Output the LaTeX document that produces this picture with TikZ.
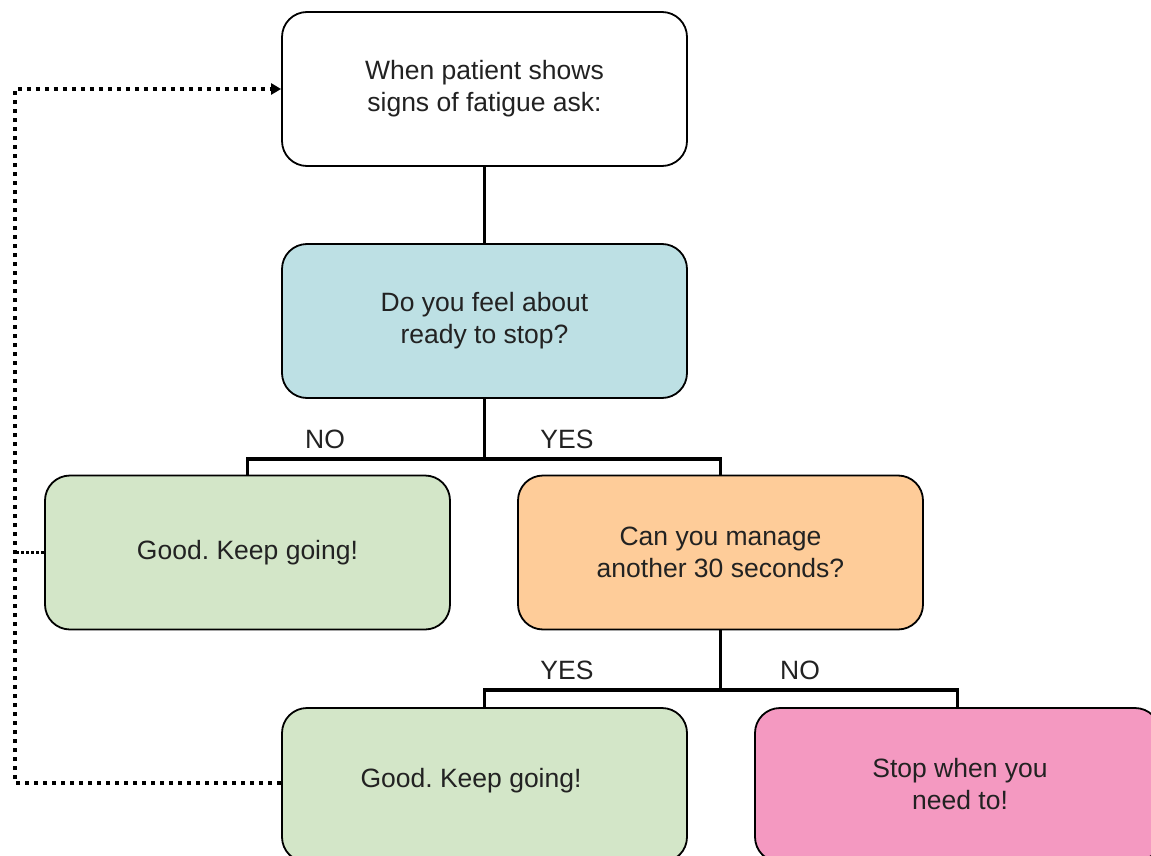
\documentclass[tikz,border=0pt]{standalone}
\usepackage{fontspec}
\setmainfont{Liberation Sans}
\frenchspacing
\usetikzlibrary{arrows.meta}
\definecolor{txt}{HTML}{222222}
\definecolor{cblue}{HTML}{BDE0E4}
\definecolor{cgreen}{HTML}{D3E6C8}
\definecolor{corange}{HTML}{FECC99}
\definecolor{cpink}{HTML}{F499C1}
\tikzset{
  box/.style={draw=black, line width=1.8pt, rounded corners=25pt, minimum width=405pt, minimum height=154pt, align=center, text=txt, font=\fontsize{26.5}{32}\selectfont, inner sep=0pt},
  conn/.style={draw=black, line width=3.6pt},
  dotline/.style={draw=black, line width=3.6pt, dash pattern=on 4.5pt off 4.5pt},
  lbl/.style={text=txt, font=\fontsize{26.5}{32}\selectfont, inner sep=0pt},
}
\begin{document}
\begin{tikzpicture}[x=1pt,y=-1pt]
\useasboundingbox (0,0) rectangle (1151,856);
\begin{scope}
\clip (0,0) rectangle (1151,856);
\node[box, fill=white] (top) at (484.5,89) {When patient shows\\signs of fatigue ask:};
\node[box, fill=cblue] (q1) at (484.5,321) {Do you feel about\\ready to stop?};
\node[box, fill=cgreen] (g1) at (247.5,552.5) {Good. Keep going!};
\node[box, fill=corange] (q2) at (720.5,552.5) {Can you manage\\another 30 seconds?};
\node[box, fill=cgreen] (g2) at (484.5,785) {};
\node[lbl] (g2t) at (471,781) {Good. Keep going!};
\node[box, fill=cpink] (stop) at (957.5,785) {};
\node[lbl, align=center] (stopt) at (960,784) {Stop when you\\need to!};

\coordinate (j1) at (484.5,459);
\coordinate (j2) at (720.5,690);
\draw[conn] (top.south) -- (q1.north);
\draw[conn] (q1.south) -- (j1);
\draw[conn] (g1.north) |- (j1) -| (q2.north);
\draw[conn] (q2.south) -- (j2);
\draw[conn] (g2.north) |- (j2) -| (stop.north);

\node[lbl] (no1) at (325,439) {NO};
\node[lbl] (yes1) at (567,439) {YES};
\node[lbl] (yes2) at (567,670) {YES};
\node[lbl] (no2) at (800,670) {NO};

\coordinate (lt) at (15,89);
\coordinate (lm) at (15,552.5);
\coordinate (lb) at (15,783);
\draw[dotline, -{Triangle[length=10pt,width=11pt]}] (g2.west |- lb) -- (lb) -- (lt) -- (top.west);
\draw[dotline, dash pattern=on 3pt off 2pt] (g1.west) -- (lm);
\end{scope}
\end{tikzpicture}
\end{document}
